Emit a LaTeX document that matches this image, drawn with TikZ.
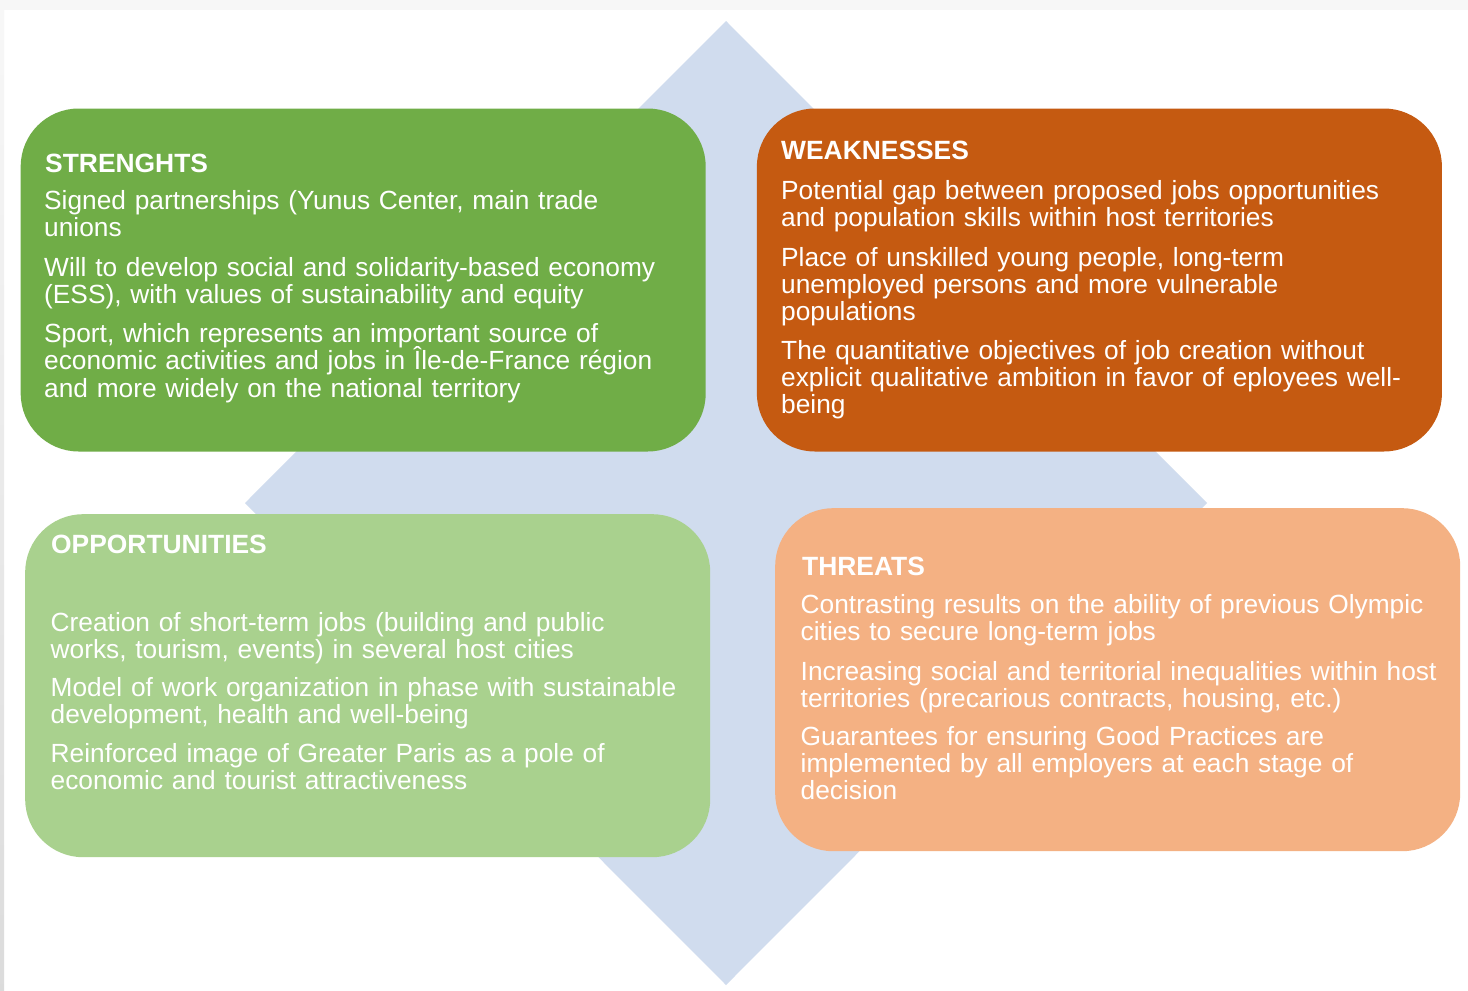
\documentclass[tikz,border=0pt]{standalone}
\usepackage{fontspec}
\setmainfont{Liberation Sans}
\definecolor{diamc}{RGB}{208,220,238}
\definecolor{sgreen}{RGB}{112,173,71}
\definecolor{worange}{RGB}{197,90,17}
\definecolor{ogreen}{RGB}{169,209,142}
\definecolor{torange}{RGB}{244,177,131}
\lineskiplimit=-20pt
\lineskip=0pt
\tikzset{
  swotbox/.style={anchor=north west, inner sep=0pt, draw=none, rounded corners=58pt,
    minimum width=685pt, minimum height=343pt},
  ttl/.style={anchor=base west, inner sep=0pt, text=white, font=\fontsize{26.4}{27.2}\selectfont\bfseries},
  bodytxt/.style={anchor=base west, inner sep=0pt, text=white, text width=670pt, align=left,
    font=\fontsize{26.3}{27.2}\selectfont}
}
\begin{document}
\begin{tikzpicture}[x=1pt,y=-1pt]
\useasboundingbox (0,0) rectangle (1468,991);
\fill[white] (0,0) rectangle (1468,991);
\fill[black!3] (0,0) rectangle (1468,10);
\shade[top color=black!3, bottom color=black!14] (0,10) rectangle (4,991);
% diamond
\fill[diamc] (726,21) -- (1207,503) -- (726,985) -- (245,503) -- cycle;
% boxes
\node[swotbox, fill=sgreen] (S) at (20.5,108.3) {};
\node[swotbox, fill=worange] (W) at (756.7,108.3) {};
\node[swotbox, fill=ogreen] (O) at (25,514) {};
\node[swotbox, fill=torange] (T) at (775,508) {};
% strengths
\node[ttl] (s0) at (45,172.3) {STRENGHTS};
\node[bodytxt] (s1) at (44,209) {Signed partnerships (Yunus Center, main trade\\unions};
\node[bodytxt] (s2) at (44,276.7) {Will to develop social and solidarity-based economy\\(ESS), with values of sustainability and equity};
\node[bodytxt] (s3) at (44,342.7) {Sport, which represents an important source of\\economic activities and jobs in \smash{Î}le-de-France région\\and more widely on the national territory};
% weaknesses
\node[ttl] (w0) at (781,159.3) {WEAKNESSES};
\node[bodytxt] (w1) at (781,199) {Potential gap between proposed jobs opportunities\\and population skills within host territories};
\node[bodytxt] (w2) at (781,266) {Place of unskilled young people, long-term\\unemployed persons and more vulnerable\\populations};
\node[bodytxt] (w3) at (781,359.3) {The quantitative objectives of job creation without\\explicit qualitative ambition in favor of eployees well-\\being};
% opportunities
\node[ttl] (o0) at (51,553.3) {OPPORTUNITIES};
\node[bodytxt] (o1) at (50.5,631) {Creation of short-term jobs (building and public\\works, tourism, events) in several host cities};
\node[bodytxt] (o2) at (50.5,696.7) {Model of work organization in phase with sustainable\\development, health and well-being};
\node[bodytxt] (o3) at (50.5,762.3) {Reinforced image of Greater Paris as a pole of\\economic and tourist attractiveness};
% threats
\node[ttl] (t0) at (802,575) {THREATS};
\node[bodytxt] (t1) at (800.5,613.3) {Contrasting results on the ability of previous Olympic\\cities to secure long-term jobs};
\node[bodytxt] (t2) at (800.5,680) {Increasing social and territorial inequalities within host\\territories (precarious contracts, housing, etc.)};
\node[bodytxt] (t3) at (800.5,745) {Guarantees for ensuring Good Practices are\\implemented by all employers at each stage of\\decision};
\end{tikzpicture}
\end{document}
